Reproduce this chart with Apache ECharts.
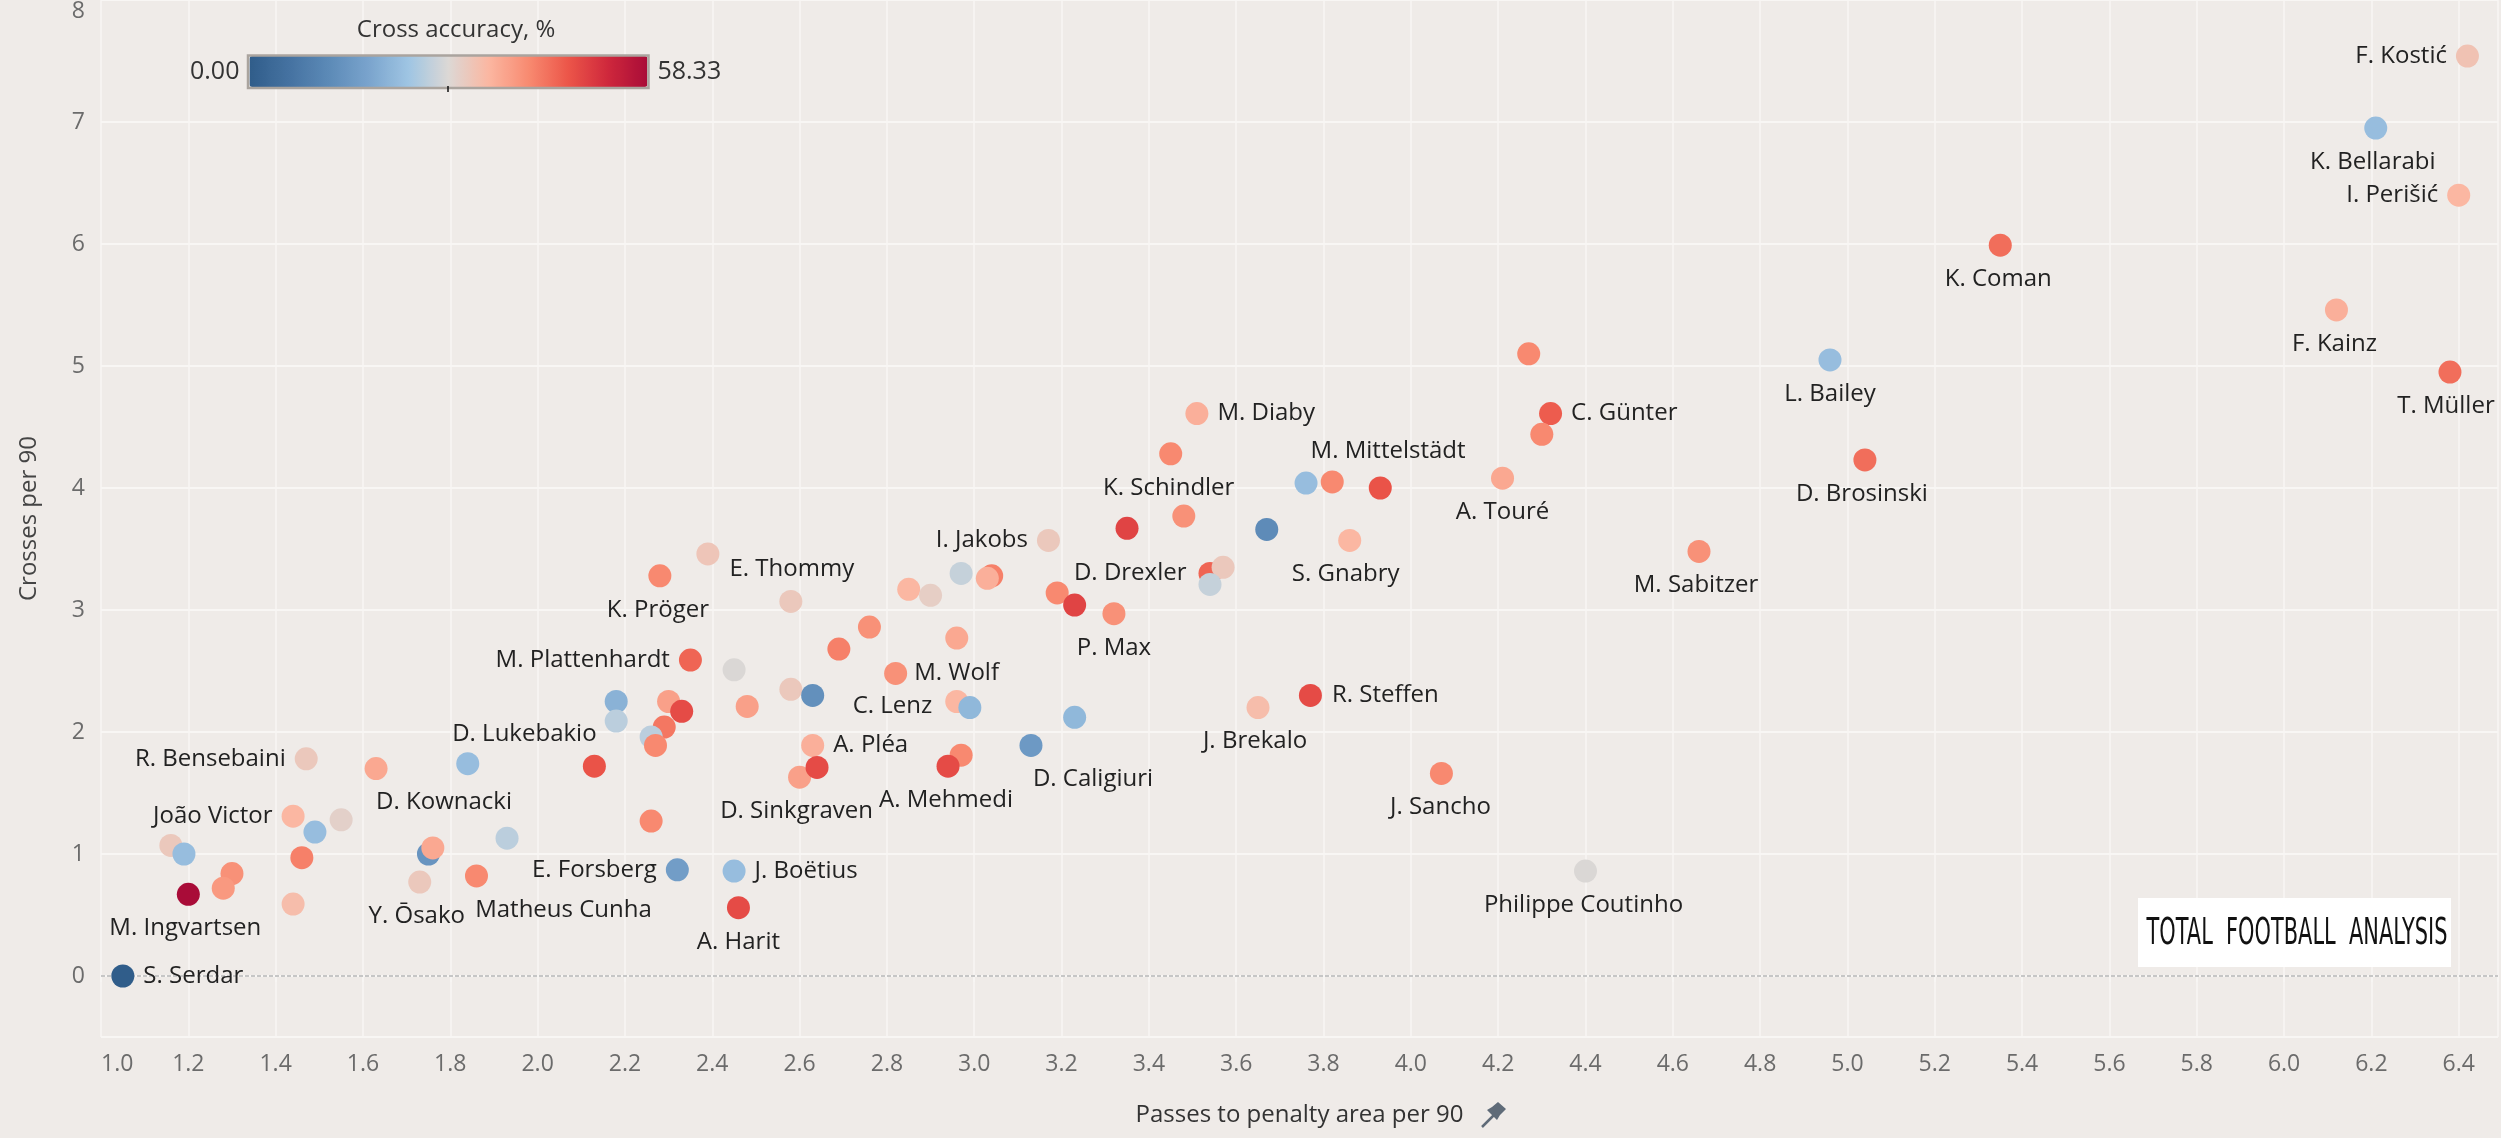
<!DOCTYPE html>
<html>
<head>
<meta charset="utf-8">
<script src="https://cdn.jsdelivr.net/npm/echarts@6/dist/echarts.min.js"></script>
<style>
  html, body { margin: 0; padding: 0; background: #efebe8; }
  #chart { width: 2501px; height: 1138px; }
</style>
</head>
<body>
<div id="chart"></div>
<script>
// ---------------- DATA ----------------
const players = [
  'S. Serdar', 'M. Ingvartsen', '', '', '', '', 'João Victor', '', '', '',
  '', 'Y. Ōsako', '', '', 'Matheus Cunha', '', '', 'E. Forsberg', 'J. Boëtius', 'A. Harit',
  'D. Kownacki', 'R. Bensebaini', '', 'D. Lukebakio', 'E. Thommy', '', 'K. Pröger', 'M. Plattenhardt', '', '',
  '', '', '', '', '', '', '', '', 'D. Sinkgraven', '',
  'M. Diaby', 'K. Schindler', 'C. Günter', '', 'M. Mittelstädt', '', '', 'A. Touré', '', '',
  '', 'S. Gnabry', 'I. Jakobs', '', '', '', '', '', '', '',
  'P. Max', 'D. Drexler', '', '', '', '', '', 'M. Wolf', '', 'C. Lenz',
  '', '', 'J. Brekalo', 'R. Steffen', 'A. Pléa', '', '', 'A. Mehmedi', 'D. Caligiuri', 'J. Sancho',
  'Philippe Coutinho', 'L. Bailey', 'D. Brosinski', 'M. Sabitzer', 'F. Kainz', 'T. Müller', 'K. Coman', 'F. Kostić', 'K. Bellarabi', 'I. Perišić'
];
const passesToPenaltyArea = [
  1.05, 1.20, 1.16, 1.19, 1.30, 1.28, 1.44, 1.49, 1.55, 1.46,
  1.44, 1.73, 1.75, 1.76, 1.86, 1.93, 2.26, 2.32, 2.45, 2.46,
  1.63, 1.47, 1.84, 2.13, 2.58, 2.39, 2.28, 2.35, 2.45, 2.58,
  2.48, 2.18, 2.18, 2.30, 2.33, 2.29, 2.26, 2.27, 2.60, 4.27,
  3.51, 3.45, 4.32, 4.30, 3.76, 3.82, 3.93, 4.21, 3.48, 3.35,
  3.67, 3.86, 3.17, 2.97, 3.04, 3.03, 2.85, 2.90, 3.19, 3.23,
  3.32, 3.54, 3.57, 3.54, 2.76, 2.69, 2.96, 2.82, 2.63, 2.96,
  2.99, 3.23, 3.65, 3.77, 2.63, 2.64, 2.97, 2.94, 3.13, 4.07,
  4.40, 4.96, 5.04, 4.66, 6.12, 6.38, 5.35, 6.42, 6.21, 6.40
];
const crossesPer90 = [
  0.00, 0.67, 1.07, 1.00, 0.84, 0.72, 1.31, 1.18, 1.28, 0.97,
  0.59, 0.77, 1.00, 1.05, 0.82, 1.13, 1.27, 0.87, 0.86, 0.56,
  1.70, 1.78, 1.74, 1.72, 3.07, 3.46, 3.28, 2.59, 2.51, 2.35,
  2.21, 2.25, 2.09, 2.25, 2.17, 2.04, 1.96, 1.89, 1.63, 5.10,
  4.61, 4.28, 4.61, 4.44, 4.04, 4.05, 4.00, 4.08, 3.77, 3.67,
  3.66, 3.57, 3.57, 3.30, 3.28, 3.26, 3.17, 3.12, 3.14, 3.04,
  2.97, 3.30, 3.35, 3.21, 2.86, 2.68, 2.77, 2.48, 2.30, 2.25,
  2.20, 2.12, 2.20, 2.30, 1.89, 1.71, 1.81, 1.72, 1.89, 1.66,
  0.86, 5.05, 4.23, 3.48, 5.46, 4.95, 5.99, 7.54, 6.95, 6.40
];
const crossAccuracy = [
  0, 58.33, 32, 22, 40, 39, 35, 22, 30.5, 42,
  34, 32, 14, 37, 41, 26, 41, 16, 22, 48,
  37, 32, 22, 47, 32, 32.5, 41, 45, 29, 32,
  38, 20, 26, 38, 48, 43, 26, 41, 38, 41,
  36, 41, 46, 41, 22, 41, 47, 37, 40, 49,
  12, 35, 32, 27, 42, 36, 35, 31, 41, 49,
  40, 45, 32, 27, 40, 42, 37, 40, 13, 35,
  21, 21, 34, 48, 36, 48, 41, 48, 15, 41,
  29, 22, 44, 40, 36, 44, 44, 33, 22, 35
];
const accuracyRange = [0, 58.33];
const accuracyRangeLabels = ['0.00', '58.33'];
const xAxisTitle = 'Passes to penalty area per 90';
const yAxisTitle = 'Crosses per 90';
const legendTitle = 'Cross accuracy, %';
const watermark = 'TOTAL  FOOTBALL  ANALYSIS';

// ---------------- STYLE ----------------
const FONT = "'Open Sans', 'Noto Sans', 'DejaVu Sans', sans-serif";
const paletteRdBu = ['#305d8a', '#4572a1', '#5c8ab7', '#7aa4cd', '#9fc5e3', '#dcd8d5',
                     '#fbb7a2', '#f88b71', '#ec5649', '#cf283c', '#a90c38'];
// label placement: [position, dx, dy, distance]
const labelPlacement = {
  'S. Serdar': ['right', 0, 0],
  'M. Ingvartsen': ['bottom', -3, 0],
  'João Victor': ['left', 0, 0],
  'Y. Ōsako': ['bottom', -3, 0],
  'Matheus Cunha': ['bottom', 87, 0],
  'D. Kownacki': ['bottom', 68, 0],
  'E. Forsberg': ['left', 0, 0],
  'J. Boëtius': ['right', 0, 0],
  'A. Harit': ['bottom', 0, 0],
  'R. Bensebaini': ['left', 0, 0],
  'D. Lukebakio': ['top', -70, 0],
  'E. Thommy': ['top', 1, 0],
  'K. Pröger': ['bottom', -2, 0],
  'M. Plattenhardt': ['left', 0, 0],
  'I. Jakobs': ['left', 0, 0],
  'K. Schindler': ['bottom', -2, 0],
  'M. Diaby': ['right', 0, 0],
  'M. Mittelstädt': ['top', 82, 0],
  'C. Günter': ['right', 0, 0],
  'A. Touré': ['bottom', 0, 0],
  'S. Gnabry': ['bottom', -4, 0],
  'D. Drexler': ['left', 0, 0, 12],
  'P. Max': ['bottom', 0, 0],
  'M. Wolf': ['right', 0, 0, 7],
  'C. Lenz': ['left', 0, 5, 13],
  'J. Brekalo': ['bottom', -3, 0],
  'R. Steffen': ['right', 0, 0, 10],
  'A. Pléa': ['right', 0, 0],
  'D. Sinkgraven': ['bottom', -3, 0],
  'A. Mehmedi': ['bottom', -2, 0],
  'D. Caligiuri': ['bottom', 62, 0],
  'J. Sancho': ['bottom', -1, 0],
  'Philippe Coutinho': ['bottom', -2, 0],
  'L. Bailey': ['bottom', 0, 0],
  'D. Brosinski': ['bottom', -3, 0],
  'M. Sabitzer': ['bottom', -3, 0],
  'F. Kainz': ['bottom', -2, 0],
  'T. Müller': ['bottom', -4, 0],
  'K. Coman': ['bottom', -2, 0],
  'F. Kostić': ['left', 0, 0],
  'K. Bellarabi': ['bottom', -3, 0],
  'I. Perišić': ['left', 0, 0]
};
const defaultDistance = { left: 9, right: 9, bottom: 9.5, top: 7.5 };

const seriesData = players.map((name, i) => {
  const item = { name: name, value: [passesToPenaltyArea[i], crossesPer90[i], crossAccuracy[i]] };
  const p = labelPlacement[name];
  if (p) {
    item.label = {
      show: true,
      position: p[0],
      offset: [p[1], p[2]],
      distance: p[3] !== undefined ? p[3] : defaultDistance[p[0]]
    };
  }
  return item;
});

const isStep = (v, step) => Math.abs(v / step - Math.round(v / step)) < 1e-6;

const chart = echarts.init(document.getElementById('chart'), null, { renderer: 'canvas' });
chart.setOption({
  animation: false,
  backgroundColor: '#efebe8',
  textStyle: { fontFamily: FONT },
  grid: { left: 101, right: 0, top: 0, bottom: 101, containLabel: false },
  xAxis: {
    type: 'value',
    min: 1.0,
    max: 6.49,
    interval: 0.2,
    name: xAxisTitle,
    nameLocation: 'middle',
    nameGap: 66,
    nameTextStyle: { fontSize: 24, color: '#333333', fontFamily: FONT, fontWeight: 500 },
    axisLine: { show: true, lineStyle: { color: '#f8f6f4', width: 2 } },
    axisTick: { show: true, length: 6, lineStyle: { color: '#f8f6f4', width: 1.5 } },
    axisLabel: {
      fontSize: 23, color: '#6b6b6b', fontFamily: FONT, margin: 16,
      alignMinLabel: 'left',
      formatter: v => isStep(v, 0.2) ? v.toFixed(1) : ''
    },
    splitLine: { show: true, lineStyle: { color: '#f8f6f4', width: 1.5 } }
  },
  yAxis: {
    type: 'value',
    min: -0.5,
    max: 8,
    splitNumber: 8,
    name: yAxisTitle,
    nameLocation: 'middle',
    nameGap: 60,
    nameTextStyle: { fontSize: 24, color: '#444444', fontFamily: FONT },
    axisLine: { show: false },
    axisTick: { show: false },
    axisLabel: {
      fontSize: 23, color: '#6b6b6b', fontFamily: FONT, margin: 16,
      verticalAlignMaxLabel: 'top',
      formatter: v => isStep(v, 1) ? String(Math.round(v)) : ''
    },
    splitLine: { show: true, lineStyle: { color: '#f8f6f4', width: 2 } }
  },
  visualMap: {
    type: 'continuous',
    min: accuracyRange[0],
    max: accuracyRange[1],
    dimension: 2,
    seriesIndex: 0,
    orient: 'horizontal',
    left: 190,
    top: 56,
    padding: 0,
    itemWidth: 31,
    itemHeight: 398,
    text: [accuracyRangeLabels[1], accuracyRangeLabels[0]],
    textGap: 10,
    textStyle: { fontSize: 25, color: '#333333', fontFamily: FONT },
    calculable: false,
    hoverLink: false,
    inRange: { color: paletteRdBu }
  },
  graphic: [
    {
      type: 'text', x: 456, y: 30, z: 100,
      style: { text: legendTitle, fontSize: 24, fontWeight: 500, fill: '#333333', fontFamily: FONT,
               align: 'center', verticalAlign: 'middle' }
    },
    {
      type: 'rect', z: 100,
      shape: { x: 248, y: 55.5, width: 400.5, height: 32.5 },
      style: { fill: 'none', stroke: '#aaa49e', lineWidth: 2.5 }
    },
    {
      type: 'line', z: 101,
      shape: { x1: 448, y1: 86, x2: 448, y2: 92 },
      style: { stroke: '#111111', lineWidth: 1.5 }
    },
    {
      type: 'rect', z: 100,
      shape: { x: 2138, y: 898, width: 313, height: 69 },
      style: { fill: '#ffffff' }
    },
    {
      type: 'text', z: 101, x: 2297, y: 934, scaleX: 0.55,
      style: { text: watermark, x: 0, y: 0, fontSize: 38, fill: '#111111',
               fontFamily: "'DejaVu Sans', sans-serif", align: 'center', verticalAlign: 'middle' }
    },
    // pin icon next to the x-axis title
    {
      type: 'line', z: 100,
      shape: { x1: 1482, y1: 1127, x2: 1494, y2: 1115 },
      style: { stroke: '#5f6b78', lineWidth: 2.5 }
    },
    {
      type: 'polygon', z: 100,
      shape: { points: [[1487, 1110], [1497, 1120], [1500, 1115], [1506, 1109], [1498, 1102], [1492, 1107]] },
      style: { fill: '#5f6b78' }
    }
  ],
  series: [{
    type: 'scatter',
    symbol: 'circle',
    symbolSize: 23,
    z: 3,
    data: seriesData,
    itemStyle: { opacity: 1 },
    label: {
      show: false,
      formatter: '{b}',
      fontSize: 24,
      lineHeight: 26,
      color: '#222222',
      fontFamily: FONT
    },
    emphasis: { disabled: true },
    markLine: {
      silent: true,
      z: 1,
      symbol: 'none',
      label: { show: false },
      lineStyle: { color: '#c6c6c6', width: 2, type: [4, 2] },
      data: [{ yAxis: 0 }]
    }
  }]
});
</script>
</body>
</html>
